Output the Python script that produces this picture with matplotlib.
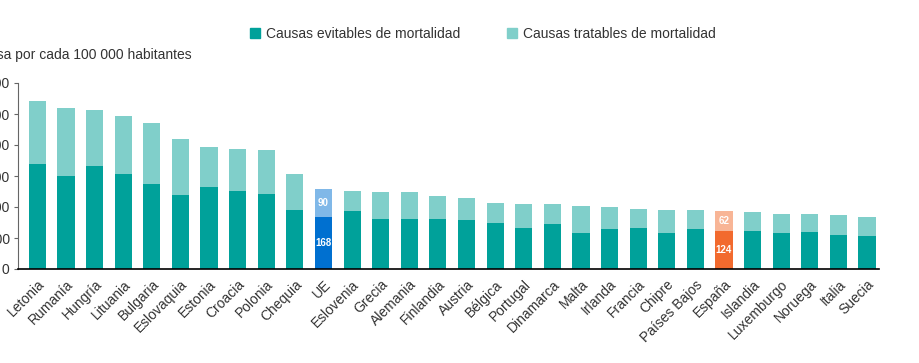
import matplotlib
matplotlib.use("Agg")
import matplotlib.pyplot as plt
from matplotlib.patches import Patch

plt.rcParams['font.family'] = ['Liberation Sans', 'DejaVu Sans']

countries = ['Letonia', 'Rumanía', 'Hungría', 'Lituania', 'Bulgaria', 'Eslovaquia',
             'Estonia', 'Croacia', 'Polonia', 'Chequia', 'UE', 'Eslovenia', 'Grecia',
             'Alemania', 'Finlandia', 'Austria', 'Bélgica', 'Portugal', 'Dinamarca',
             'Malta', 'Irlanda', 'Francia', 'Chipre', 'Países Bajos', 'España',
             'Islandia', 'Luxemburgo', 'Noruega', 'Italia', 'Suecia']
evitables = [340, 301, 333, 307, 275, 240, 265, 252, 243, 191, 168, 188, 162,
             162, 162, 159, 149, 133, 146, 117, 130, 133, 117, 130, 124,
             123, 117, 120, 111, 107]
tratables = [203, 219, 181, 187, 197, 180, 129, 136, 142, 116, 90, 65, 87,
             87, 74, 71, 65, 78, 65, 87, 71, 61, 74, 61, 62,
             62, 61, 58, 64, 62]
yticks = [0, 100, 200, 300, 400, 500, 600]

DARK = '#00a19a'
LIGHT = '#80cfca'
highlight = {
    'UE': ('#0070d0', '#80b8e8'),
    'España': ('#f26a2e', '#f8b596'),
}

W, H = 920, 363
fig = plt.figure(figsize=(W / 100, H / 100), dpi=100)
ax = fig.add_axes([18 / W, (H - 269) / H, 861 / W, (269 - 83) / H])

x = list(range(len(countries)))
dark_colors = [highlight.get(c, (DARK, LIGHT))[0] for c in countries]
light_colors = [highlight.get(c, (DARK, LIGHT))[1] for c in countries]

ax.bar(x, evitables, width=0.6, color=dark_colors, zorder=2)
ax.bar(x, tratables, width=0.6, bottom=evitables, color=light_colors, zorder=2)

# value labels for highlighted bars
for i, c in enumerate(countries):
    if c in highlight:
        ax.text(i, evitables[i] / 2, str(evitables[i]), ha='center', va='center',
                color='white', fontsize=7, fontweight='bold')
        ax.text(i, evitables[i] + tratables[i] / 2, str(tratables[i]), ha='center',
                va='center', color='white', fontsize=7, fontweight='bold')

ax.set_xlim(-0.68, 29.42)
ax.set_ylim(0, 600)
ax.set_yticks(yticks)
ax.set_yticklabels([str(v) for v in yticks], fontsize=10, color='#333333')
ax.set_xticks(x)
ax.set_xticklabels(countries, rotation=45, ha='right', rotation_mode='anchor',
                   fontsize=10, color='#333333')
ax.tick_params(axis='x', length=0, pad=6)
ax.tick_params(axis='y', length=3, pad=3, color='#666666')

for s in ['top', 'right']:
    ax.spines[s].set_visible(False)
ax.spines['left'].set_color('#666666')
ax.spines['bottom'].set_color('black')
ax.spines['bottom'].set_linewidth(1.2)

fig.text(-18 / W, 1 - 55 / H, 'Tasa por cada 100 000 habitantes', fontsize=10,
         color='#333333', va='center', ha='left')

handles = [Patch(color=DARK), Patch(color=LIGHT)]
fig.legend(handles, ['Causas evitables de mortalidad', 'Causas tratables de mortalidad'],
           loc='center', bbox_to_anchor=(483 / W, 1 - 34 / H), ncol=2, frameon=False,
           fontsize=10, handlelength=0.7, handleheight=0.7, handletextpad=0.45,
           columnspacing=3.4, labelcolor='#333333')

fig.savefig('out.png', dpi=100)
